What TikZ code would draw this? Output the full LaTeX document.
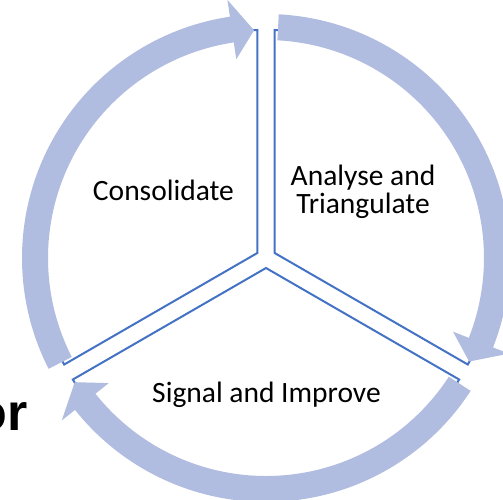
\documentclass[tikz,border=0pt]{standalone}
\usepackage{fontspec}
\setmainfont{Carlito}
\newfontfamily\headfont{Liberation Sans}
\usepackage{tikz}

\begin{document}
\begin{tikzpicture}[x=1pt, y=1pt, every node/.style={align=center, inner sep=0pt},
    sector/.style={draw=segborder, fill=white, line width=2pt},
    cyclearrow/.style={fill=arrowbg},
    steplabel/.style={anchor=base, font=\fontsize{29.5}{28}\selectfont}]
      \definecolor{arrowbg}{RGB}{176,188,224}
      \definecolor{segborder}{RGB}{68,114,196}
      \useasboundingbox (-266,-241) rectangle (237,258);
      \clip (-266,-241) rectangle (237,258);
      \foreach \m in {150,30,270}
        \draw[sector] (\m:10) -- ++({\m-60}:223) arc[start angle=\m-60, end angle=\m+60, radius=223] -- cycle;
      \foreach \s/\b/\t in {207/98.5/93, 87/-21.5/-27, -33/-141.5/-147}
        \fill[cyclearrow] (\s:218) arc[start angle=\s, end angle=\b, radius=218] -- (\b:201) -- (\t:228)
          -- (\b:261) -- (\b:244) arc[start angle=\b, end angle=\s, radius=244] -- cycle;
      \node[steplabel] (consolidate) at (-102.5,58) {Consolidate};
      \node[steplabel] (analyse) at (97,45) {Analyse and\\Triangulate};
      \node[steplabel] (signal) at (0.5,-144) {Signal and Improve};
      \node[anchor=base east, font=\headfont\bfseries\fontsize{52}{52}\selectfont] (cut) at (-238,-172) {or};
    \end{tikzpicture}
\end{document}
